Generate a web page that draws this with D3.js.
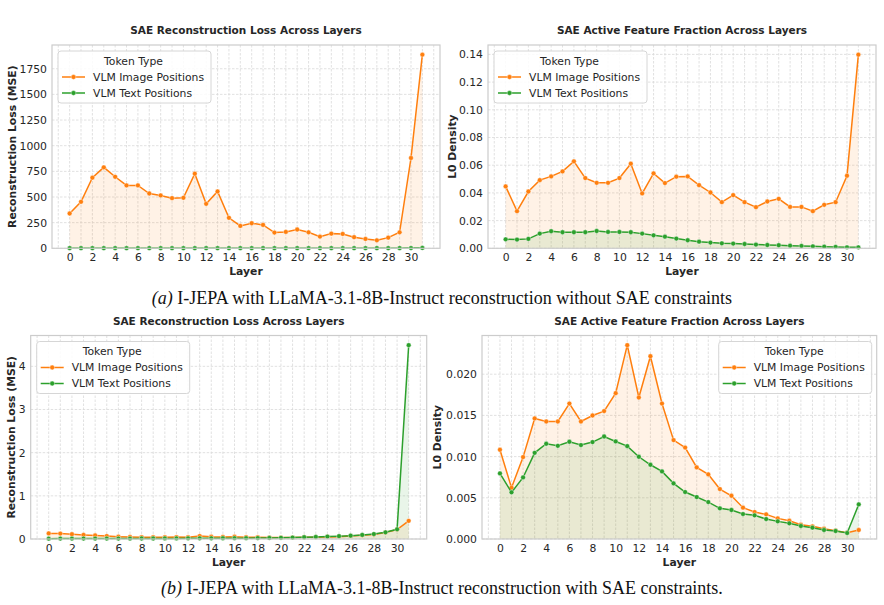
<!DOCTYPE html>
<html>
<head>
<meta charset="utf-8">
<script src="https://cdn.jsdelivr.net/npm/d3@7"></script>
<style>
  body { margin: 0; background: #fff; }
  svg text { font-family: "DejaVu Sans", sans-serif; }
  svg text.caption { font-family: "Liberation Serif", "Times New Roman", serif; }
</style>
</head>
<body>
<svg id="chart" width="884" height="605"></svg>
<script>
// data
const layers = [0,1,2,3,4,5,6,7,8,9,10,11,12,13,14,15,16,17,18,19,20,21,22,23,24,25,26,27,28,29,30,31];
const layerTicks = [0,2,4,6,8,10,12,14,16,18,20,22,24,26,28,30];
const seriesNames = ["VLM Image Positions", "VLM Text Positions"];

// (a) without SAE constraints
const lossImageA = [339,453,688,789,697,613,613,534,515,489,492,727,433,554,297,218,244,228,153,160,183,156,114,143,140,108,91,78,104,156,880,1887];
const lossTextA = [1.2,1.1,1.1,1.0,1.0,0.9,0.9,0.9,0.8,0.8,0.8,0.8,0.8,0.8,0.8,0.8,0.8,0.8,0.8,0.8,0.8,0.8,0.9,0.9,0.9,1.0,1.0,1.1,1.2,1.4,1.8,3.5];
const lossTicksA = [0,250,500,750,1000,1250,1500,1750];

const densImageA = [0.0447,0.0268,0.0410,0.0492,0.0519,0.0555,0.0628,0.0507,0.0473,0.0473,0.0507,0.0611,0.0396,0.0541,0.0471,0.0517,0.0519,0.0456,0.0403,0.0333,0.0384,0.0333,0.0297,0.0338,0.0357,0.0299,0.0299,0.0268,0.0314,0.0333,0.0524,0.1398];
const densTextA = [0.0065,0.0063,0.0068,0.0106,0.0123,0.0116,0.0116,0.0116,0.0125,0.0118,0.0118,0.0116,0.0106,0.0094,0.0084,0.0070,0.0058,0.0048,0.0041,0.0036,0.0034,0.0031,0.0027,0.0024,0.0022,0.0019,0.0017,0.0014,0.0012,0.0010,0.0007,0.0007];
const densTicksA = [0,0.02,0.04,0.06,0.08,0.10,0.12,0.14];

// (b) with SAE constraints
const lossImageB = [0.13,0.125,0.11,0.095,0.082,0.068,0.055,0.047,0.042,0.040,0.040,0.045,0.040,0.068,0.055,0.048,0.055,0.042,0.040,0.032,0.032,0.034,0.040,0.042,0.048,0.055,0.068,0.085,0.105,0.15,0.22,0.42];
const lossTextB = [0.008,0.009,0.009,0.010,0.010,0.010,0.011,0.011,0.012,0.012,0.013,0.014,0.015,0.015,0.016,0.017,0.018,0.019,0.021,0.024,0.028,0.033,0.040,0.048,0.056,0.066,0.078,0.095,0.115,0.155,0.225,4.49];
const lossTicksB = [0,1,2,3,4];

const densImageB = [0.01083,0.00622,0.00994,0.01463,0.01426,0.01426,0.01644,0.01426,0.01499,0.01552,0.0177,0.02352,0.01717,0.02218,0.01644,0.0120,0.0111,0.00869,0.00784,0.00606,0.00525,0.0038,0.00327,0.00299,0.0025,0.00222,0.00174,0.00154,0.00125,0.00101,0.00077,0.00109];
const densTextB = [0.00796,0.00566,0.00747,0.01046,0.01156,0.01131,0.0118,0.0114,0.01176,0.01244,0.01184,0.01127,0.00998,0.00901,0.0082,0.00675,0.0057,0.00509,0.00448,0.00372,0.00352,0.00303,0.00287,0.00242,0.00214,0.0019,0.00158,0.00137,0.00109,0.00097,0.00073,0.0042];
const densTicksB = [0,0.005,0.010,0.015,0.020];

const colors = ["#ff7f0e", "#2ca02c"];
const svg = d3.select("#chart");

function drawPanel(p) {
  const x = d3.scaleLinear().domain([-1.55, 32.55]).range([p.left, p.right]);
  const yMax = d3.max(p.image.concat(p.text)) * 1.05;
  const y = d3.scaleLinear().domain([0, yMax]).range([p.bottom, p.top]);
  const g = svg.append("g");

  // grid
  g.selectAll(".vg").data(d3.range(-1, 33)).enter().append("line")
    .attr("x1", d => x(d)).attr("x2", d => x(d))
    .attr("y1", p.top).attr("y2", p.bottom)
    .attr("stroke", "#d9d9d9").attr("stroke-width", 0.8).attr("stroke-dasharray", "2.5,1.5");
  g.selectAll(".hg").data(p.yTicks).enter().append("line")
    .attr("x1", p.left).attr("x2", p.right)
    .attr("y1", d => y(d)).attr("y2", d => y(d))
    .attr("stroke", "#d9d9d9").attr("stroke-width", 0.8).attr("stroke-dasharray", "2.5,1.5");

  const series = [p.image, p.text];

  // shaded areas
  series.forEach((vals, k) => {
    const area = d3.area().x((d, i) => x(layers[i])).y0(y(0)).y1(d => y(d));
    g.append("path").datum(vals).attr("d", area)
      .attr("fill", colors[k]).attr("fill-opacity", 0.1);
  });

  // lines + markers
  series.forEach((vals, k) => {
    const line = d3.line().x((d, i) => x(layers[i])).y(d => y(d));
    g.append("path").datum(vals).attr("d", line)
      .attr("fill", "none").attr("stroke", colors[k]).attr("stroke-width", 1.5);
    g.selectAll(".pt" + k).data(vals).enter().append("circle")
      .attr("cx", (d, i) => x(layers[i])).attr("cy", d => y(d)).attr("r", 2.4)
      .attr("fill", colors[k]).attr("stroke", "#fff").attr("stroke-width", 0.4);
  });

  // frame
  g.append("rect").attr("x", p.left).attr("y", p.top)
    .attr("width", p.right - p.left).attr("height", p.bottom - p.top)
    .attr("fill", "none").attr("stroke", "#cccccc").attr("stroke-width", 1.2);

  // axes
  const xa = g.append("g").attr("transform", "translate(0," + p.bottom + ")")
    .call(d3.axisBottom(x).tickValues(layerTicks).tickSize(0).tickPadding(5));
  const ya = g.append("g").attr("transform", "translate(" + p.left + ",0)")
    .call(d3.axisLeft(y).tickValues(p.yTicks).tickFormat(p.fmt).tickSize(0).tickPadding(5));
  [xa, ya].forEach(a => {
    a.select(".domain").remove();
    a.selectAll("text").attr("font-size", "10.8px").attr("fill", "#262626");
  });

  // title and labels
  g.append("text").attr("x", (p.left + p.right) / 2).attr("y", p.top - 11)
    .attr("text-anchor", "middle").attr("font-size", "10.5px").attr("font-weight", "bold")
    .attr("fill", "#262626").text(p.title);
  g.append("text").attr("x", (p.left + p.right) / 2).attr("y", p.bottom + 26.5)
    .attr("text-anchor", "middle").attr("font-size", "10.8px").attr("font-weight", "bold")
    .attr("fill", "#262626").text("Layer");
  g.append("text")
    .attr("transform", "translate(" + p.ylabX + "," + (p.top + p.bottom) / 2 + ") rotate(-90)")
    .attr("text-anchor", "middle").attr("dy", "0.35em").attr("font-size", "10.8px")
    .attr("font-weight", "bold").attr("fill", "#262626").text(p.ylabel);

  // legend
  const lw = 153, lh = 52;
  const lx = p.legendRight ? p.right - 5 - lw : p.left + 6;
  const ly = p.top + 6;
  const lg = g.append("g").attr("transform", "translate(" + lx + "," + ly + ")");
  lg.append("rect").attr("width", lw).attr("height", lh).attr("rx", 3)
    .attr("fill", "#fff").attr("fill-opacity", 0.85).attr("stroke", "#d6d6d6").attr("stroke-width", 1);
  lg.append("text").attr("x", lw / 2 - 1).attr("y", 10).attr("dy", "0.35em")
    .attr("text-anchor", "middle").attr("font-size", "10.8px").attr("fill", "#262626").text("Token Type");
  seriesNames.forEach((name, k) => {
    const yy = 26 + k * 16;
    lg.append("line").attr("x1", 4).attr("x2", 27).attr("y1", yy).attr("y2", yy)
      .attr("stroke", colors[k]).attr("stroke-width", 1.5);
    lg.append("circle").attr("cx", 15.5).attr("cy", yy).attr("r", 2.4)
      .attr("fill", colors[k]).attr("stroke", "#fff").attr("stroke-width", 0.4);
    lg.append("text").attr("x", 35).attr("y", yy).attr("dy", "0.35em")
      .attr("font-size", "10.8px").attr("fill", "#262626").text(name);
  });
}

drawPanel({ left: 52, right: 440, top: 45, bottom: 248.3, image: lossImageA, text: lossTextA,
  yTicks: lossTicksA, fmt: d3.format("d"), title: "SAE Reconstruction Loss Across Layers",
  ylabel: "Reconstruction Loss (MSE)", ylabX: 12, legendRight: false });
drawPanel({ left: 488, right: 876, top: 45, bottom: 248.3, image: densImageA, text: densTextA,
  yTicks: densTicksA, fmt: d3.format(".2f"), title: "SAE Active Feature Fraction Across Layers",
  ylabel: "L0 Density", ylabX: 452, legendRight: false });
drawPanel({ left: 30.7, right: 426.7, top: 335.5, bottom: 539, image: lossImageB, text: lossTextB,
  yTicks: lossTicksB, fmt: d3.format("d"), title: "SAE Reconstruction Loss Across Layers",
  ylabel: "Reconstruction Loss (MSE)", ylabX: 11, legendRight: false });
drawPanel({ left: 482, right: 876.7, top: 335.5, bottom: 539, image: densImageB, text: densTextB,
  yTicks: densTicksB, fmt: d3.format(".3f"), title: "SAE Active Feature Fraction Across Layers",
  ylabel: "L0 Density", ylabX: 437, legendRight: true });

// captions
function caption(yPos, tag, rest) {
  const t = svg.append("text").attr("class", "caption").attr("x", 442).attr("y", yPos)
    .attr("text-anchor", "middle").attr("font-size", "18px").attr("fill", "#111");
  t.append("tspan").attr("font-style", "italic").text(tag);
  t.append("tspan").text(rest);
}
caption(304, "(a)", " I-JEPA with LLaMA-3.1-8B-Instruct reconstruction without SAE constraints");
caption(594, "(b)", " I-JEPA with LLaMA-3.1-8B-Instruct reconstruction with SAE constraints.");
</script>
</body>
</html>
